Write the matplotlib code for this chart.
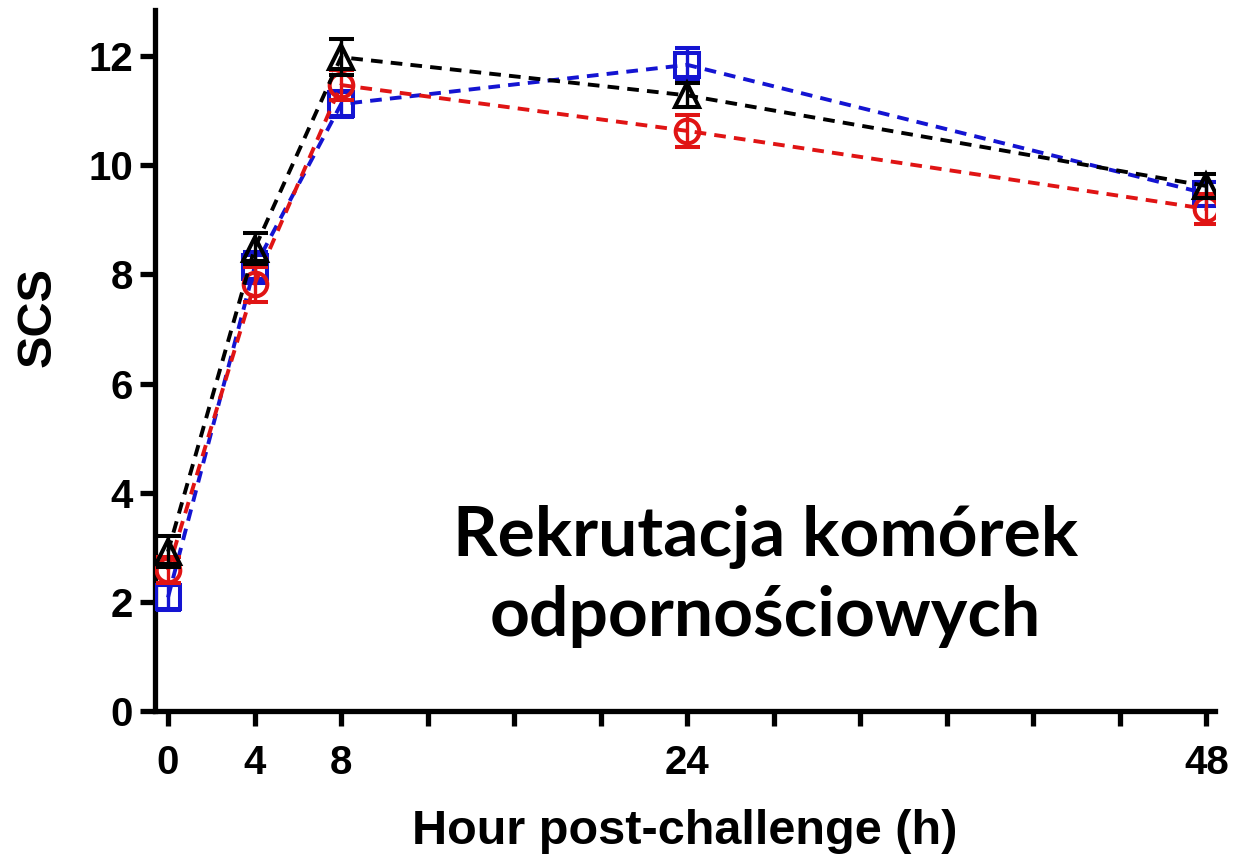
import numpy as np
import matplotlib.pyplot as plt

# time points (h)
hours = [0, 4, 8, 24, 48]

# SCS means and errors
scs_black = [2.92, 8.47, 11.98, 11.28, 9.62]
err_black = [0.28, 0.28, 0.33, 0.22, 0.22]
scs_blue = [2.08, 8.13, 11.12, 11.84, 9.48]
err_blue = [0.22, 0.28, 0.24, 0.30, 0.22]
scs_red = [2.58, 7.82, 11.47, 10.63, 9.2]
err_red = [0.24, 0.32, 0.28, 0.30, 0.28]

xtick_pos = list(range(0, 49, 4))
xtick_labels = ['0', '4', '8', '', '', '', '24', '', '', '', '', '', '48']

fig = plt.figure(figsize=(12.45, 8.55), dpi=100)
ax = fig.add_axes([0.1245, 0.1684, 0.8515, 0.8196])

lw = 2.8
dash = (0, (3.0, 2.1))
# blue squares
ax.errorbar(hours, scs_blue, yerr=err_blue, color='#1414d2', ls=dash, lw=lw,
            marker='s', ms=17, mfc='none', mew=2.9, capsize=9, capthick=2.4, elinewidth=2.4, zorder=3)
# red circles
ax.errorbar(hours, scs_red, yerr=err_red, color='#e01414', ls=dash, lw=lw,
            marker='o', ms=17, mfc='none', mew=2.9, capsize=9, capthick=2.4, elinewidth=2.4, zorder=4)
# black triangles
ax.errorbar(hours, scs_black, yerr=err_black, color='black', ls=dash, lw=lw,
            marker='^', ms=17, mfc='none', mew=2.9, capsize=9, capthick=2.4, elinewidth=2.4, zorder=5)

ax.set_xlim(-0.6, 48.4)
ax.set_ylim(0, 12.84)
ax.set_xticks(xtick_pos)
ax.set_xticklabels(xtick_labels)
ax.set_yticks([0, 2, 4, 6, 8, 10, 12])

for s in ['top', 'right']:
    ax.spines[s].set_visible(False)
for s in ['left', 'bottom']:
    ax.spines[s].set_linewidth(3.8)

ax.tick_params(axis='both', direction='out', length=11, width=3.8, labelsize=29, pad=5)
ax.tick_params(axis='x', pad=13)
for lab in ax.get_xticklabels() + ax.get_yticklabels():
    lab.set_fontweight('bold')
    lab.set_family('Liberation Sans')

ax.set_xlabel('Hour post-challenge (h)', fontsize=35, fontweight='bold', family='Liberation Sans', labelpad=19)
ax.set_ylabel('SCS', fontsize=35, fontweight='bold', family='Liberation Sans')
ax.yaxis.set_label_coords(-0.089, 0.562)

ax.text(0.576, 0.192, 'Rekrutacja komórek\nodpornościowych', transform=ax.transAxes,
        ha='center', va='center', fontsize=50, fontweight='bold', family='Lato', linespacing=1.32)

fig.savefig('out.png', dpi=100)
